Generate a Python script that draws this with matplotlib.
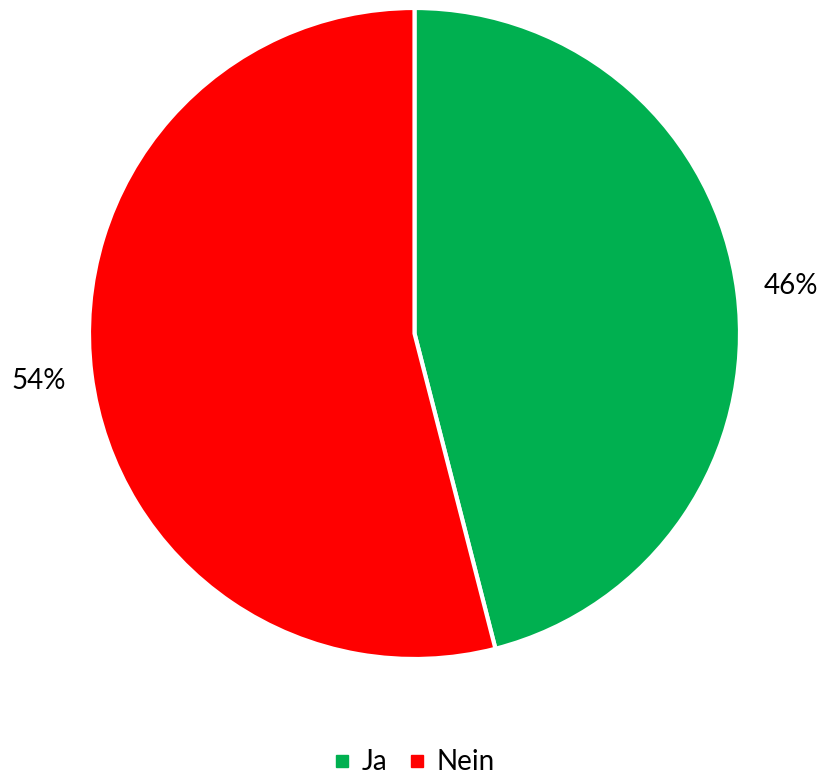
import matplotlib.pyplot as plt
from matplotlib.lines import Line2D

# Daten
kategorien = ['Ja', 'Nein']
werte = [46, 54]
farben = ['#00B050', '#FF0000']

fig = plt.figure(figsize=(8.23, 7.77), dpi=100)
ax = fig.add_axes([89 / 823, 118 / 777, 651 / 823, 651 / 777])

wedges, texts, autotexts = ax.pie(
    werte, colors=farben, startangle=90, counterclock=False,
    autopct='%1.0f%%', pctdistance=1.165, radius=1,
    wedgeprops=dict(edgecolor='white', linewidth=3),
    textprops=dict(fontsize=20, family='Lato', color='black'))
ax.set_xlim(-1.0, 1.0)
ax.set_ylim(-1.0, 1.0)
ax.set_aspect('equal')
ax.axis('off')

# Legende
handles = [Line2D([0], [0], marker='s', linestyle='', markersize=9,
                  markerfacecolor=c, markeredgecolor=c) for c in farben]
fig.legend(handles, kategorien, loc='lower center', ncol=2, frameon=False,
           bbox_to_anchor=(0.5, -0.03), handletextpad=0.2, columnspacing=0.6,
           handlelength=1.0, prop=dict(family='Lato', size=20))

fig.savefig('out.png', dpi=100)
